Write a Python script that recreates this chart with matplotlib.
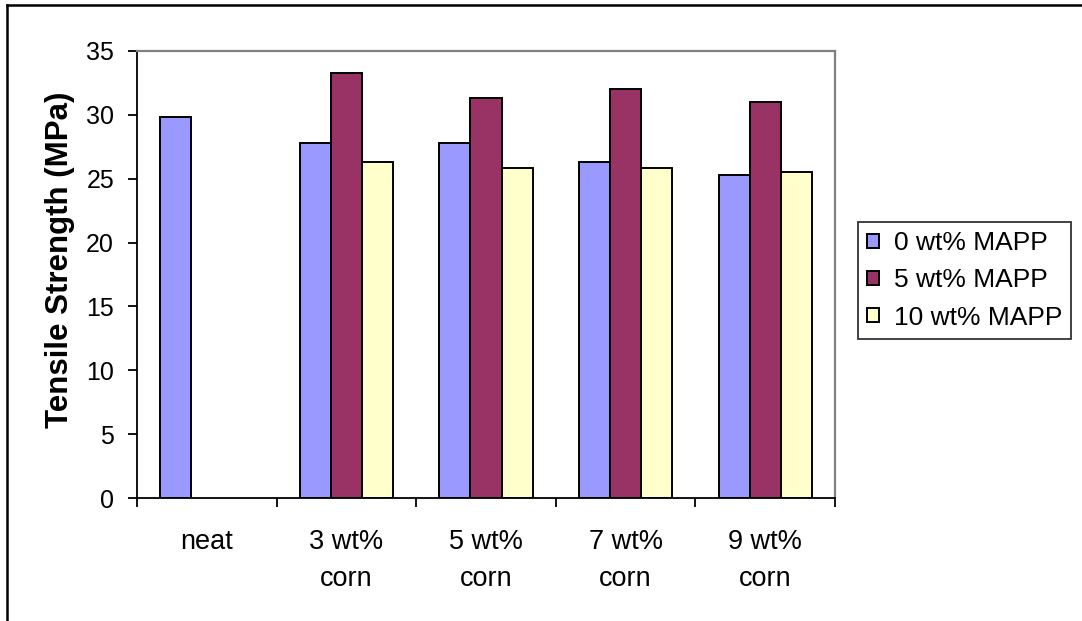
import numpy as np
import matplotlib.pyplot as plt
from matplotlib.lines import Line2D

plt.rcParams['font.family'] = ['Liberation Sans', 'DejaVu Sans']

# Tensile strength data
categories = ["neat", "3 wt%\ncorn", "5 wt%\ncorn", "7 wt%\ncorn", "9 wt%\ncorn"]
mapp0 = [29.8, 27.8, 27.8, 26.3, 25.3]
mapp5 = [np.nan, 33.3, 31.3, 32.0, 31.0]
mapp10 = [np.nan, 26.3, 25.8, 25.8, 25.5]
series_names = ["0 wt% MAPP", "5 wt% MAPP", "10 wt% MAPP"]
colors = ["#9999FF", "#993366", "#FFFFCC"]

W, H = 1082, 621
fig = plt.figure(figsize=(W / 100, H / 100), dpi=100)
ax = fig.add_axes([137/W, 1 - 498/H, (835-137)/W, (498-51)/H])

x = np.arange(len(categories))
w = 1 / 4.5
for i, (vals, name, c) in enumerate(zip([mapp0, mapp5, mapp10], series_names, colors)):
    ax.bar(x + (i - 1) * w, vals, width=w, color=c, edgecolor="black",
           linewidth=1.4, label=name)

ax.set_xlim(-0.5, len(categories) - 0.5)
ax.set_ylim(0, 35)
ax.set_yticks(range(0, 36, 5))
ax.tick_params(axis="y", labelsize=18, length=6.5, width=1.3, direction="out", pad=10)

# category ticks sit between groups, labels centred under groups
ax.set_xticks(np.arange(-0.5, len(categories), 1))
ax.set_xticklabels([])
ax.set_xticks(x, minor=True)
ax.set_xticklabels(categories, minor=True, fontsize=19.5, linespacing=1.55)
ax.tick_params(axis="x", which="major", length=6.5, width=1.3, direction="out")
ax.tick_params(axis="x", which="minor", length=0, pad=22)

fig.text(60/W, 1 - 260/H, "Tensile Strength (MPa)", fontsize=22.5,
         fontweight="bold", rotation=90, ha="center", va="center")

ax.spines["left"].set_linewidth(1.3)
ax.spines["bottom"].set_linewidth(1.3)
for s in ["top", "right"]:
    ax.spines[s].set_color("#808080")
    ax.spines[s].set_linewidth(1.6)

leg = ax.legend(loc="upper left", bbox_to_anchor=(858/W, 1 - 222/H),
                bbox_transform=fig.transFigure, fontsize=19, frameon=True,
                fancybox=False, edgecolor="black", handlelength=0.45,
                handleheight=0.45, handletextpad=0.55, labelspacing=0.5,
                borderpad=0.35, borderaxespad=0)
leg.get_frame().set_linewidth(1.3)

# outer chart border (only top and left edges are visible)
fig.add_artist(Line2D([7/W, 1], [1 - 5/H, 1 - 5/H], color="black", linewidth=1.8))
fig.add_artist(Line2D([7/W, 7/W], [0, 1 - 5/H], color="black", linewidth=1.8))

fig.savefig("out.png", dpi=100)
